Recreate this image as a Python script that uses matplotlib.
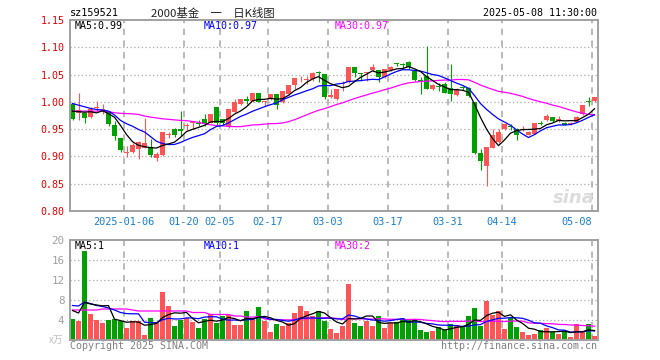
import numpy as np
import pandas as pd
import matplotlib
matplotlib.use("Agg")
import matplotlib.pyplot as plt

# trading days shown (exchange holidays removed)
holidays = ["2025-01-01", "2025-01-28", "2025-01-29", "2025-01-30", "2025-01-31",
            "2025-02-03", "2025-02-04", "2025-04-04", "2025-05-01", "2025-05-02",
            "2025-05-05"]
dates = [d.strftime("%Y-%m-%d") for d in pd.bdate_range("2024-12-23", "2025-05-08")
         if d.strftime("%Y-%m-%d") not in holidays]

label_dates = ["2025-01-06", "2025-01-20", "2025-02-05", "2025-02-17", "2025-03-03",
               "2025-03-17", "2025-03-31", "2025-04-14", "2025-05-08"]
label_text = ["2025-01-06", "01-20", "02-05", "02-17", "03-03",
              "03-17", "03-31", "04-14", "05-08"]

open_ = np.array([
    0.996, 0.979, 0.979, 0.972, 0.989, 0.985, 0.983, 0.957, 0.933, 0.906,
    0.909, 0.914, 0.916, 0.918, 0.897, 0.902, 0.939, 0.950, 0.950, 0.956,
    0.961, 0.962, 0.968, 0.962, 0.990, 0.968, 0.955, 0.982, 0.996, 1.005,
    1.002, 1.016, 1.000, 1.005, 1.014, 0.999, 1.014, 1.031, 1.041, 1.040,
    1.042, 1.055, 1.051, 1.009, 1.006, 1.032, 1.036, 1.064, 1.052, 1.052,
    1.058, 1.058, 1.046, 1.058, 1.070, 1.068, 1.073, 1.057, 1.040, 1.048,
    1.023, 1.028, 1.032, 1.026, 1.013, 1.026, 1.026, 1.000, 0.906, 0.883,
    0.916, 0.926, 0.950, 0.955, 0.951, 0.948, 0.940, 0.942, 0.961, 0.967,
    0.972, 0.965, 0.962, 0.959, 0.964, 0.977, 1.000, 1.001])
high = np.array([
    0.997, 1.016, 0.979, 0.991, 1.001, 0.996, 0.984, 0.965, 0.933, 0.920,
    0.924, 0.928, 0.970, 0.932, 0.908, 0.944, 0.944, 0.953, 0.983, 0.962,
    0.965, 0.966, 0.977, 0.977, 0.990, 0.969, 0.987, 1.005, 1.005, 1.010,
    1.016, 1.016, 1.001, 1.014, 1.014, 1.020, 1.031, 1.044, 1.048, 1.047,
    1.054, 1.056, 1.051, 1.023, 1.023, 1.039, 1.064, 1.064, 1.052, 1.055,
    1.069, 1.058, 1.061, 1.066, 1.072, 1.071, 1.075, 1.060, 1.045, 1.102,
    1.032, 1.035, 1.037, 1.069, 1.026, 1.029, 1.027, 1.000, 0.913, 0.917,
    0.950, 0.951, 0.960, 0.960, 0.953, 0.956, 0.947, 0.962, 0.965, 0.977,
    0.973, 0.974, 0.963, 0.963, 0.975, 0.994, 1.009, 1.009])
low = np.array([
    0.966, 0.967, 0.961, 0.971, 0.983, 0.977, 0.956, 0.930, 0.909, 0.899,
    0.907, 0.896, 0.916, 0.899, 0.891, 0.901, 0.934, 0.936, 0.937, 0.948,
    0.950, 0.956, 0.956, 0.961, 0.958, 0.958, 0.953, 0.979, 0.994, 0.996,
    1.000, 1.000, 0.993, 1.004, 0.987, 0.998, 1.013, 1.023, 1.036, 1.033,
    1.039, 1.036, 1.006, 1.007, 1.004, 1.020, 1.034, 1.045, 1.039, 1.039,
    1.057, 1.036, 1.043, 1.056, 1.065, 1.061, 1.061, 1.039, 1.014, 1.023,
    1.022, 1.019, 1.016, 1.001, 1.011, 1.022, 1.008, 0.905, 0.876, 0.845,
    0.916, 0.925, 0.948, 0.948, 0.931, 0.946, 0.939, 0.941, 0.957, 0.965,
    0.964, 0.964, 0.957, 0.958, 0.963, 0.976, 0.993, 0.999])
close = np.array([
    0.968, 0.985, 0.970, 0.986, 0.990, 0.987, 0.959, 0.937, 0.911, 0.907,
    0.921, 0.926, 0.924, 0.902, 0.904, 0.944, 0.941, 0.940, 0.946, 0.957,
    0.964, 0.959, 0.959, 0.977, 0.962, 0.962, 0.987, 1.000, 1.005, 1.001,
    1.016, 1.000, 1.001, 1.014, 0.994, 1.020, 1.031, 1.044, 1.042, 1.041,
    1.052, 1.052, 1.009, 1.012, 1.023, 1.034, 1.064, 1.052, 1.051, 1.053,
    1.064, 1.045, 1.060, 1.064, 1.069, 1.067, 1.063, 1.040, 1.039, 1.023,
    1.031, 1.027, 1.017, 1.014, 1.023, 1.025, 1.010, 0.907, 0.892, 0.917,
    0.939, 0.944, 0.959, 0.954, 0.940, 0.949, 0.945, 0.962, 0.960, 0.974,
    0.965, 0.969, 0.958, 0.962, 0.973, 0.994, 0.999, 1.009])
volume = np.array([
    4.2, 3.8, 17.8, 5.2, 4.0, 3.4, 4.0, 4.2, 3.8, 2.4,
    3.8, 3.8, 1.0, 4.4, 3.6, 9.6, 6.8, 2.8, 4.0, 4.4,
    3.6, 2.4, 4.2, 5.2, 3.4, 4.8, 5.0, 3.0, 3.0, 5.8,
    4.4, 6.6, 3.8, 1.6, 3.2, 2.8, 3.4, 5.4, 6.8, 5.8,
    4.8, 5.8, 3.8, 2.2, 1.4, 2.8, 11.2, 3.4, 2.8, 3.8,
    2.8, 4.8, 2.4, 3.4, 3.6, 4.4, 4.0, 4.2, 2.0, 1.6,
    1.8, 2.6, 2.0, 3.2, 3.0, 2.6, 4.8, 6.4, 2.8, 7.8,
    5.0, 5.8, 2.2, 4.4, 2.6, 1.6, 1.0, 1.2, 2.0, 2.4,
    1.6, 1.2, 1.6, 0.6, 3.2, 1.6, 3.2, 0.8])

# moving average values before enough history is on screen
ma5_head = [0.983, 0.982, 0.981, 0.982]
ma10_head = [0.997, 0.994, 0.991, 0.988, 0.986, 0.985, 0.983, 0.976, 0.966]
ma30_head = [0.983, 0.983, 0.983, 0.983, 0.983, 0.983, 0.982, 0.980, 0.979, 0.9785,
             0.978, 0.977, 0.974, 0.972, 0.9705, 0.969, 0.968, 0.967, 0.966, 0.9656,
             0.964, 0.9626, 0.960, 0.958, 0.9564, 0.956, 0.955, 0.9546, 0.9546]
vma5_head = [5.9, 5.4, 7.5, 7.2]
vma10_head = [6.9, 6.8, 7.6, 7.3, 6.9, 6.7, 6.4, 6.0, 5.5]
vma30_head = [6.0, 6.0, 6.0, 6.0, 6.0, 6.2, 6.2, 6.2, 6.2, 6.2,
              6.0, 5.8, 5.8, 5.8, 5.8, 5.8, 5.8, 5.8, 5.8, 5.8,
              5.5, 5.5, 5.5, 5.1, 5.1, 5.1, 5.1, 4.8, 4.8]

RED = "#ff5555"
GREEN = "#00a000"
MONO = "DejaVu Sans Mono"


def moving_avg(vals, n, head):
    out = pd.Series(vals).rolling(n).mean().to_numpy()
    out[:len(head)] = head
    return out


x = np.arange(len(dates))
colors = np.where(close >= open_, RED, GREEN)

W, H = 660, 360
fig = plt.figure(figsize=(6.6, 3.6), dpi=100)
ax1 = fig.add_axes([70 / W, 1 - 211 / H, 528 / W, 191 / H])
ax2 = fig.add_axes([70 / W, 1 - 340 / H, 528 / W, 100 / H])

xmin, xmax = -0.4167, 87.583
tick_pos = [dates.index(d) for d in label_dates]

for ax in (ax1, ax2):
    ax.set_xlim(xmin, xmax)
    for p in tick_pos:
        ax.axvline(p - 0.4167, color="#b4b4b4", lw=1.3, ls=(0, (3.5, 3)), zorder=0)
    for s in ax.spines.values():
        s.set_color("#a0a0a0")
        s.set_linewidth(1.4)
    ax.tick_params(length=0)

# price panel
ax1.set_ylim(0.80, 1.15)
for yv in np.arange(0.85, 1.11, 0.05):
    ax1.axhline(yv, color="#a8a8a8", lw=0.9, ls=(0, (1, 2)), zorder=0)
ax1.vlines(x, low, high, colors=colors, lw=0.8, zorder=2)
body = np.maximum(np.abs(close - open_), 0.0018)
ax1.bar(x, body, bottom=np.minimum(open_, close), width=0.83, color=colors,
        linewidth=0, zorder=2)
ax1.plot(x, moving_avg(close, 30, ma30_head), color="#ff00ff", lw=0.9, zorder=3)
ax1.plot(x, moving_avg(close, 10, ma10_head), color="#0000ff", lw=0.9, zorder=3)
ax1.plot(x, moving_avg(close, 5, ma5_head), color="#000000", lw=0.9, zorder=3)

yt = np.arange(0.80, 1.151, 0.05)
ax1.set_yticks(yt)
ax1.set_yticklabels(["%.2f" % v for v in yt], color="#e00000", fontsize=7.2,
                    family=MONO)
ax1.set_xticks([p - 0.4167 for p in tick_pos])
ax1.set_xticklabels(label_text, color="#1a7fd0", fontsize=7.4, family=MONO)
ax1.tick_params(axis="y", pad=4)
ax1.tick_params(axis="x", pad=4)
ax1.get_xticklabels()[-1].set_ha("right")
ax1.text(0.955, 0.07, "sina", transform=ax1.transAxes, ha="center", va="center",
         fontsize=13, fontweight="bold", style="italic", color="#dcdcdc", zorder=1)

# volume panel
ax2.set_ylim(0, 20)
for yv in [4, 8, 12, 16]:
    ax2.axhline(yv, color="#a8a8a8", lw=0.9, ls=(0, (1, 2)), zorder=0)
ax2.bar(x, volume, width=0.83, color=colors, linewidth=0, zorder=2)
ax2.plot(x, moving_avg(volume, 30, vma30_head), color="#ff00ff", lw=0.9, zorder=3)
ax2.plot(x, moving_avg(volume, 10, vma10_head), color="#0000ff", lw=0.9, zorder=3)
ax2.plot(x, moving_avg(volume, 5, vma5_head), color="#000000", lw=0.9, zorder=3)
ax2.set_xticks([])
ax2.set_yticks([4, 8, 12, 16, 20])
ax2.set_yticklabels(["4", "8", "12", "16", "20"], color="#a0a0a0", fontsize=7.8,
                    family=MONO)
ax2.tick_params(axis="y", pad=4)


def ftext(px, py, s, **kw):
    fig.text(px / W, 1 - py / H, s, va="center", **kw)


ftext(70, 13, "sz159521", fontsize=7.4, family=MONO, color="#000000")
ftext(213, 13, "2000基金\u3000一\u3000日K线图", fontsize=8.2, ha="center",
      family=["Noto Sans CJK SC", "DejaVu Sans"], color="#222222")
ftext(597, 13, "2025-05-08 11:30:00", fontsize=7.2, ha="right", family=MONO,
      color="#000000")
ftext(75, 26, "MA5:0.99", fontsize=7.2, family=MONO, color="#000000")
ftext(204, 26, "MA10:0.97", fontsize=7.2, family=MONO, color="#0000ff")
ftext(335, 26, "MA30:0.97", fontsize=7.2, family=MONO, color="#ff00ff")
ftext(75, 246, "MA5:1", fontsize=7.2, family=MONO, color="#000000")
ftext(204, 246, "MA10:1", fontsize=7.2, family=MONO, color="#0000ff")
ftext(335, 246, "MA30:2", fontsize=7.2, family=MONO, color="#ff00ff")
ftext(63, 340, "x万", fontsize=7, ha="right",
      family=["Noto Sans CJK SC", "DejaVu Sans"], color="#c0c0c0")
ftext(70, 346, "Copyright 2025 SINA.COM", fontsize=7.2, family=MONO, color="#808080")
ftext(597, 346, "http://finance.sina.com.cn", fontsize=7.2, ha="right", family=MONO,
      color="#808080")

fig.savefig("out.png", dpi=100)
